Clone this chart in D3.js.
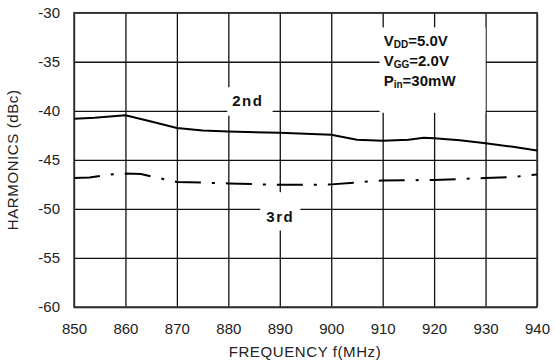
<!DOCTYPE html>
<meta charset="utf-8">
<script src="https://d3js.org/d3.v7.min.js"></script>
<style>
  body { margin: 0; background: #fff; }
  text { font-family: "Liberation Sans", Arial, sans-serif; }
</style>
<div id="my_dataviz"></div>
<script>

  // data
  var freq2nd = [850, 854, 860, 865, 870, 875, 880, 890, 895, 900, 905, 910, 915, 918, 920, 925, 930, 935, 940];
  var harm2nd = [-40.8, -40.7, -40.45, -41.1, -41.75, -42.0, -42.1, -42.25, -42.35, -42.45, -42.95, -43.05, -42.95, -42.75, -42.8, -43.0, -43.3, -43.65, -44.05];
  var freq3rd = [850, 853, 857, 860, 863, 866, 870, 880, 890, 895, 900, 905, 910, 920, 930, 935, 940];
  var harm3rd = [-46.85, -46.8, -46.5, -46.4, -46.45, -46.8, -47.25, -47.4, -47.55, -47.55, -47.5, -47.3, -47.1, -47.05, -46.85, -46.75, -46.5];
  var xTicks = [850, 860, 870, 880, 890, 900, 910, 920, 930, 940];
  var yTicks = [-60, -55, -50, -45, -40, -35, -30];

  var margin = { top: 12.7, right: 18, bottom: 56, left: 74 },
    width = 555 - margin.left - margin.right,
    height = 363 - margin.top - margin.bottom;

  var svg = d3.select("#my_dataviz")
    .append("svg")
    .attr("width", 555)
    .attr("height", 363)
    .append("g")
    .attr("transform", "translate(" + margin.left + "," + margin.top + ")");

  var x = d3.scaleLinear().domain([850, 940]).range([0, width]);
  var y = d3.scaleLinear().domain([-60, -30]).range([height, 0]);

  // grid
  svg.append("g")
    .attr("transform", "translate(0," + height + ")")
    .call(d3.axisBottom(x).tickValues(xTicks).tickSize(-height).tickFormat(""));
  svg.append("g")
    .call(d3.axisLeft(y).tickValues(yTicks).tickSize(-width).tickFormat(""));
  svg.selectAll(".domain").remove();
  svg.selectAll(".tick line").attr("stroke", "#111").attr("stroke-width", 1.3);

  // frame
  svg.append("rect")
    .attr("width", width).attr("height", height)
    .attr("fill", "none").attr("stroke", "#333").attr("stroke-width", 1.5);

  // tick labels (plain hyphen minus like the original)
  var plain = function (d) { return String(d); };
  svg.append("g")
    .attr("transform", "translate(0," + height + ")")
    .call(d3.axisBottom(x).tickValues(xTicks).tickSize(0).tickPadding(16).tickFormat(plain))
    .call(function (g) { g.select(".domain").remove(); })
    .selectAll("text").attr("font-size", 15).attr("fill", "#222")
    .style("font-family", "Liberation Sans, Arial, sans-serif");
  svg.append("g")
    .call(d3.axisLeft(y).tickValues(yTicks).tickSize(0).tickPadding(14).tickFormat(plain))
    .call(function (g) { g.select(".domain").remove(); })
    .selectAll("text").attr("font-size", 15).attr("fill", "#222")
    .style("font-family", "Liberation Sans, Arial, sans-serif");

  // axis titles
  svg.append("text")
    .attr("text-anchor", "middle")
    .attr("x", 231).attr("y", height + 50)
    .attr("font-size", 15).attr("fill", "#222")
    .attr("letter-spacing", 0.6)
    .text("FREQUENCY f(MHz)");
  svg.append("text")
    .attr("text-anchor", "middle")
    .attr("transform", "rotate(-90)")
    .attr("x", -height / 2).attr("y", -56)
    .attr("font-size", 15).attr("fill", "#222")
    .attr("letter-spacing", 0.6)
    .text("HARMONICS (dBc)");

  // curves
  var line = d3.line()
    .x(function (d) { return x(d[0]); })
    .y(function (d) { return y(d[1]); });

  svg.append("path")
    .datum(d3.zip(freq2nd, harm2nd))
    .attr("d", line)
    .attr("fill", "none").attr("stroke", "#000").attr("stroke-width", 2);
  svg.append("path")
    .datum(d3.zip(freq3rd, harm3rd))
    .attr("d", line)
    .attr("fill", "none").attr("stroke", "#000").attr("stroke-width", 2)
    .attr("stroke-dasharray", "26,11,3,11");

  // white label boxes over the grid
  function box(f0, f1, v0, v1) {
    svg.append("rect")
      .attr("x", x(f0)).attr("y", y(v0))
      .attr("width", x(f1) - x(f0)).attr("height", y(v1) - y(v0))
      .attr("fill", "#fff");
  }
  box(879.8, 888.6, -37.6, -40.5);
  box(886.2, 894.0, -48.3, -52.2);
  box(909.4, 930.0, -31.5, -40.2);

  svg.append("text")
    .attr("x", x(883.8)).attr("y", y(-39.55))
    .attr("text-anchor", "middle")
    .attr("font-size", 15).attr("font-weight", "bold").attr("fill", "#111")
    .attr("letter-spacing", 1.5)
    .text("2nd");
  svg.append("text")
    .attr("x", x(890.1)).attr("y", y(-51.3))
    .attr("text-anchor", "middle")
    .attr("font-size", 15).attr("font-weight", "bold").attr("fill", "#111")
    .attr("letter-spacing", 1.5)
    .text("3rd");

  // conditions
  var conds = [["V", "DD", "=5.0V"], ["V", "GG", "=2.0V"], ["P", "in", "=30mW"]];
  conds.forEach(function (c, i) {
    var t = svg.append("text")
      .attr("x", x(910.2)).attr("y", y(-33.4) + i * 20)
      .attr("font-size", 15).attr("font-weight", "bold").attr("fill", "#111");
    t.append("tspan").text(c[0]);
    t.append("tspan").attr("font-size", 10).attr("dy", 2).text(c[1]);
    t.append("tspan").attr("dy", -2).text(c[2]);
  });

</script>
